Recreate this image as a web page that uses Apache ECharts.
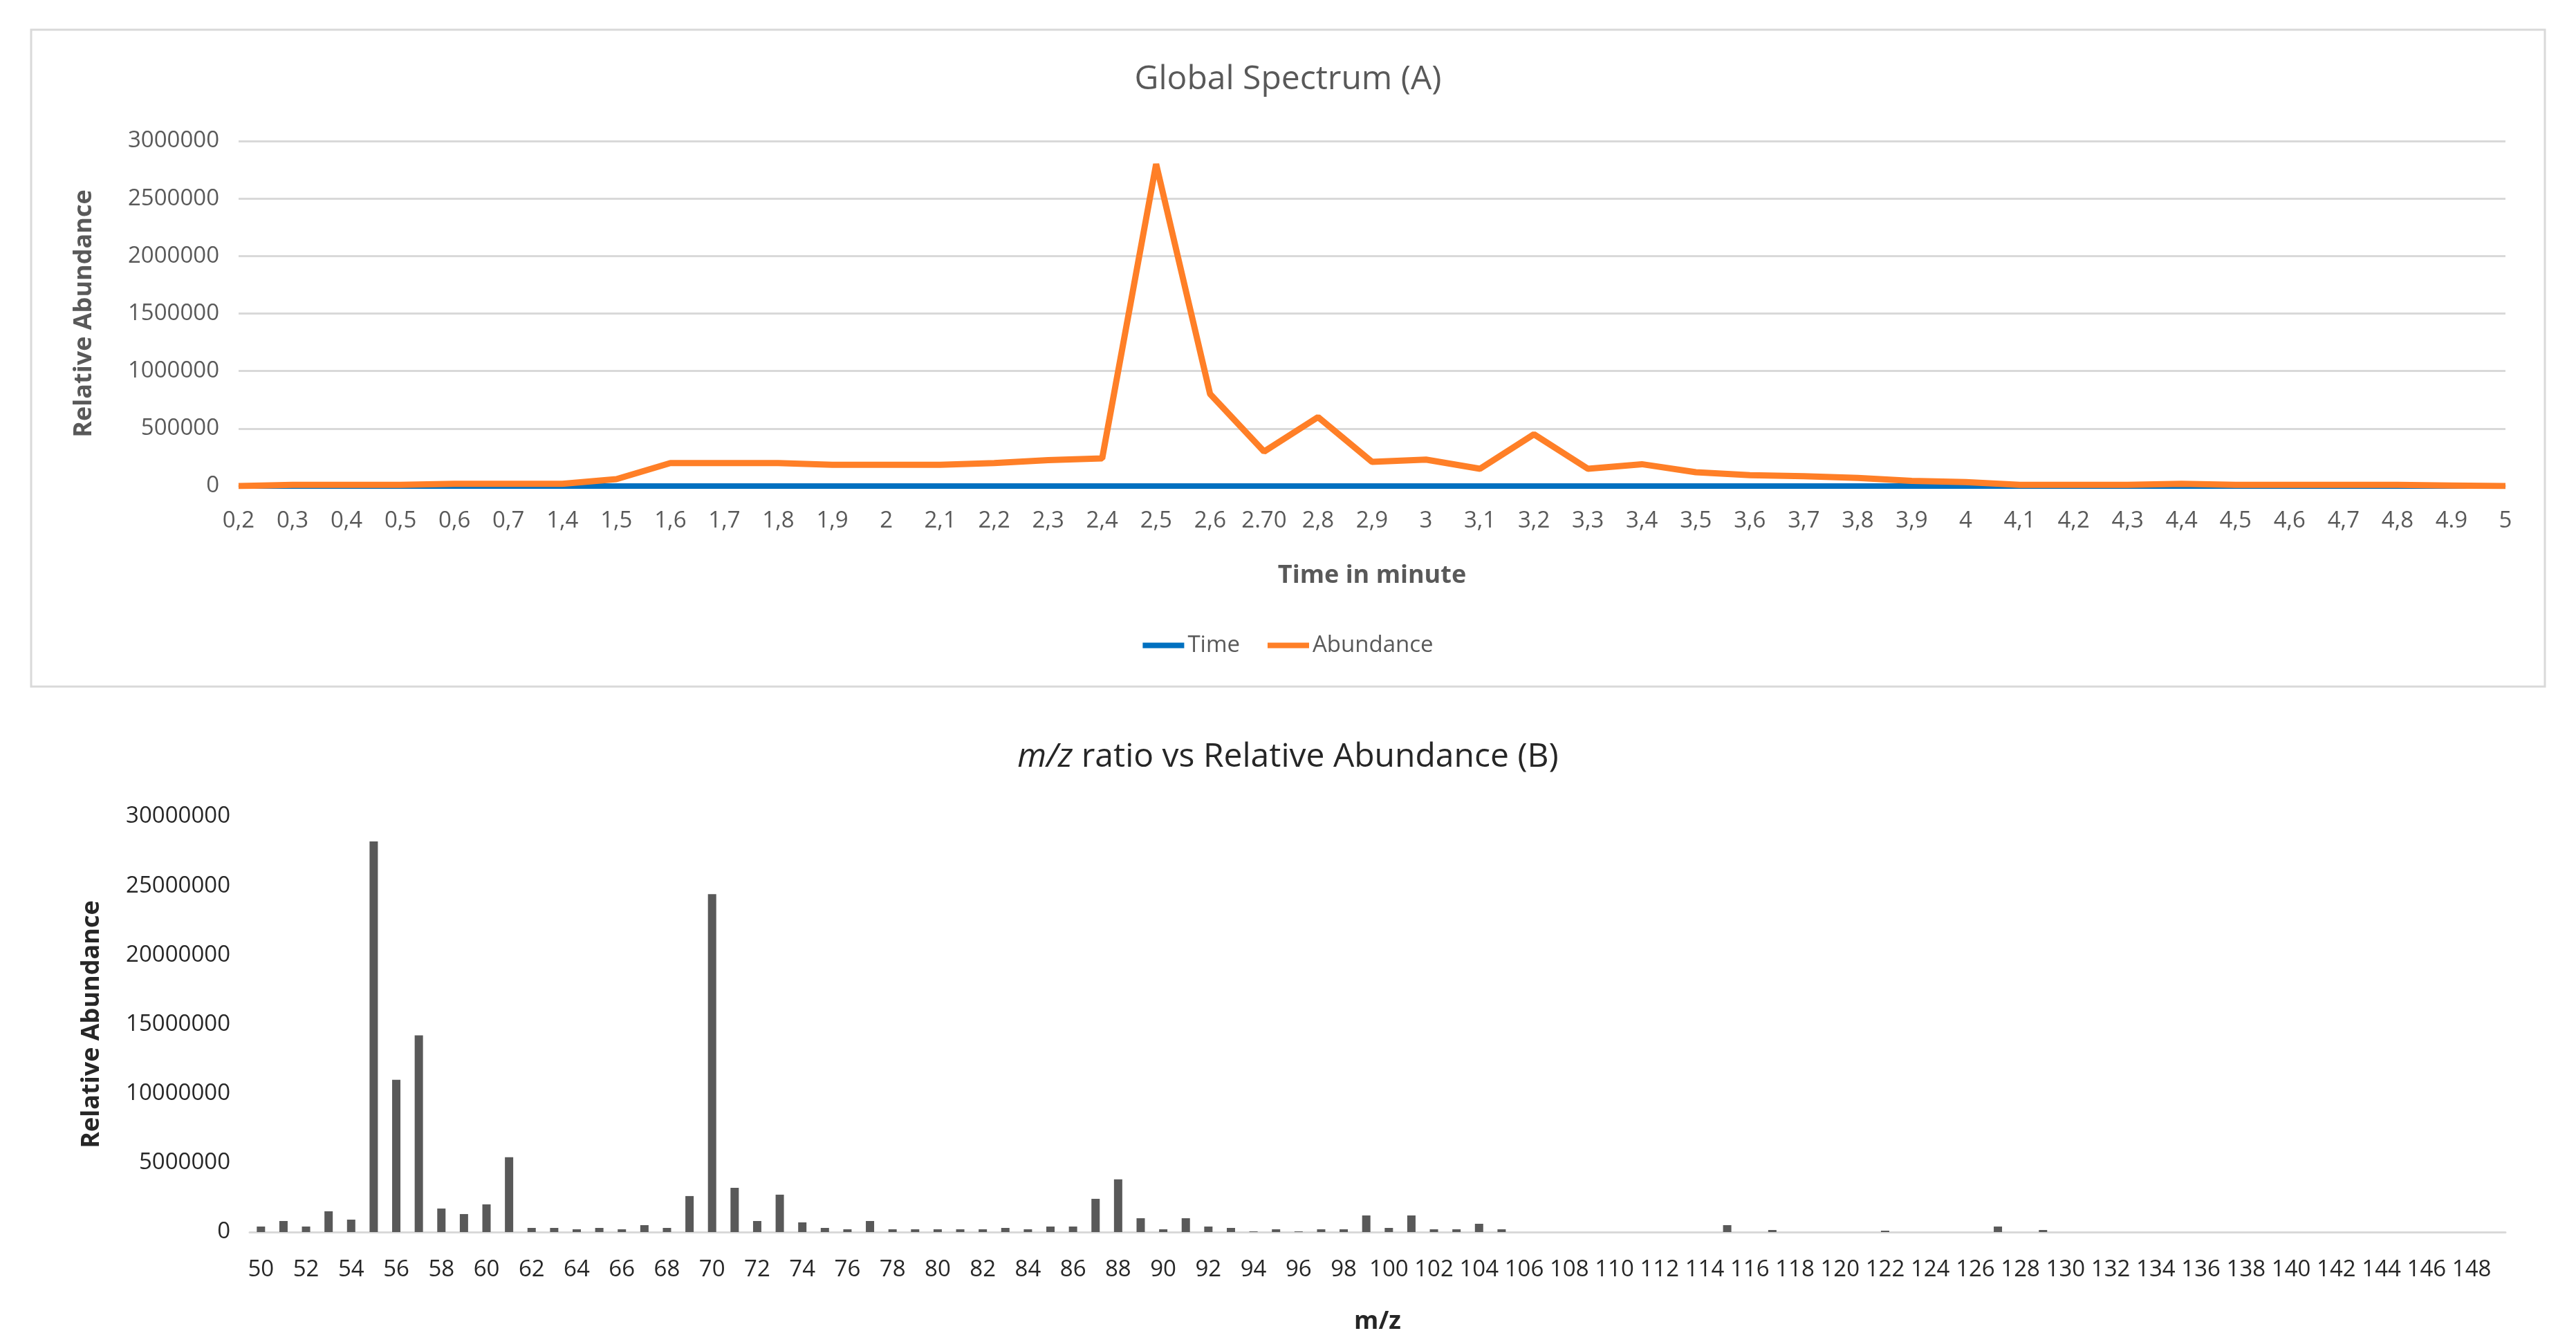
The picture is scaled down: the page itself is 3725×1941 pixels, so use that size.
<!DOCTYPE html>
<html><head><meta charset="utf-8">
<script src="https://cdn.jsdelivr.net/npm/echarts@6/dist/echarts.min.js"></script>
<style>html,body{margin:0;padding:0;background:#fff}#c{width:3725px;height:1941px}</style>
</head><body><div id="c"></div>
<script>
const timeLabels = ['0,2','0,3','0,4','0,5','0,6','0,7','1,4','1,5','1,6','1,7','1,8','1,9','2','2,1','2,2','2,3','2,4','2,5','2,6','2.70','2,8','2,9','3','3,1','3,2','3,3','3,4','3,5','3,6','3,7','3,8','3,9','4','4,1','4,2','4,3','4,4','4,5','4,6','4,7','4,8','4.9','5'];
const timeValues = [0.2,0.3,0.4,0.5,0.6,0.7,1.4,1.5,1.6,1.7,1.8,1.9,2,2.1,2.2,2.3,2.4,2.5,2.6,2.7,2.8,2.9,3,3.1,3.2,3.3,3.4,3.5,3.6,3.7,3.8,3.9,4,4.1,4.2,4.3,4.4,4.5,4.6,4.7,4.8,4.9,5];
const abundance = [0,10000,10000,10000,20000,20000,20000,60000,200000,200000,200000,185000,185000,185000,200000,225000,240000,2800000,800000,300000,600000,210000,230000,150000,450000,150000,190000,120000,95000,85000,70000,45000,35000,10000,10000,10000,20000,10000,10000,10000,10000,5000,0];
const mzLabels = []; for (let m = 50; m <= 149; m++) mzLabels.push(String(m));
const mzValues = [400000,800000,400000,1500000,900000,28200000,11000000,14200000,1700000,1300000,2000000,5400000,300000,300000,200000,300000,200000,500000,300000,2600000,
24400000,3200000,800000,2700000,700000,300000,200000,800000,200000,200000,200000,200000,200000,300000,200000,400000,400000,2400000,3800000,1000000,
200000,1000000,400000,300000,50000,200000,50000,200000,200000,1200000,300000,1200000,200000,200000,600000,200000,0,0,0,0,
0,0,0,0,0,500000,0,150000,0,0,0,0,100000,0,0,0,0,400000,0,150000,
0,0,0,0,0,0,0,0,0,0,0,0,0,0,0,0,0,0,0,0];
const F = '"Liberation Sans Narrow","Open Sans",sans-serif';
const plain = v => String(v);
const chart = echarts.init(document.getElementById('c'));
chart.setOption({
  animation:false,
  textStyle:{fontFamily:F},
  graphic:[{type:'rect',shape:{x:45,y:43,width:3635,height:950},style:{fill:'none',stroke:'#d9d9d9',lineWidth:3}}],
  title:[
    {text:'Global Spectrum (A)',left:'center',top:86,textStyle:{fontFamily:F,fontSize:48,fontWeight:'normal',color:'#595959'}},
    {text:'{i|m/z} ratio vs Relative Abundance (B)',left:'center',top:1066,textStyle:{fontFamily:F,fontSize:48,fontWeight:'normal',color:'#262626',rich:{i:{fontFamily:F,fontSize:48,fontStyle:'italic',color:'#262626'}}}}
  ],
  legend:{data:['Time','Abundance'],top:912,left:'center',itemWidth:60,itemHeight:8,itemGap:40,textStyle:{fontSize:33,color:'#595959',fontFamily:F},icon:'rect'},
  grid:[{left:345,right:102,top:204,height:499},{left:361,right:102,top:1181,height:601}],
  xAxis:[
    {type:'category',gridIndex:0,data:timeLabels,boundaryGap:false,name:'Time in minute',nameLocation:'middle',nameGap:112,
     nameTextStyle:{fontSize:36,fontWeight:'bold',color:'#595959'},axisTick:{show:false},
     axisLine:{lineStyle:{color:'#d9d9d9',width:2}},axisLabel:{interval:0,fontSize:33,color:'#595959',margin:34}},
    {type:'category',gridIndex:1,data:mzLabels,name:'m/z',nameLocation:'middle',nameGap:112,
     nameTextStyle:{fontSize:36,fontWeight:'bold',color:'#262626'},axisTick:{show:false},
     axisLine:{lineStyle:{color:'#d9d9d9',width:3}},axisLabel:{interval:1,fontSize:33,color:'#262626',margin:38}}
  ],
  yAxis:[
    {type:'value',gridIndex:0,min:0,max:3000000,interval:500000,name:'Relative Abundance',nameLocation:'middle',nameGap:205,
     nameTextStyle:{fontSize:36,fontWeight:'bold',color:'#595959'},axisLabel:{fontSize:33,color:'#595959',margin:28,formatter:plain},
     splitLine:{lineStyle:{color:'#d9d9d9',width:3}},axisLine:{show:false},axisTick:{show:false}},
    {type:'value',gridIndex:1,min:0,max:30000000,interval:5000000,name:'Relative Abundance',nameLocation:'middle',nameGap:210,
     nameTextStyle:{fontSize:36,fontWeight:'bold',color:'#262626'},axisLabel:{fontSize:33,color:'#262626',margin:28,formatter:plain},
     splitLine:{show:false},axisLine:{show:false},axisTick:{show:false}}
  ],
  series:[
    {name:'Time',type:'line',xAxisIndex:0,yAxisIndex:0,data:timeValues,symbol:'none',lineStyle:{color:'#0070C0',width:8},itemStyle:{color:'#0070C0'}},
    {name:'Abundance',type:'line',xAxisIndex:0,yAxisIndex:0,data:abundance,symbol:'none',lineStyle:{color:'#FF7F27',width:9},itemStyle:{color:'#FF7F27'}},
    {name:'mz',type:'bar',xAxisIndex:1,yAxisIndex:1,data:mzValues,barWidth:12,itemStyle:{color:'#595959'}}
  ]
});
</script></body></html>
